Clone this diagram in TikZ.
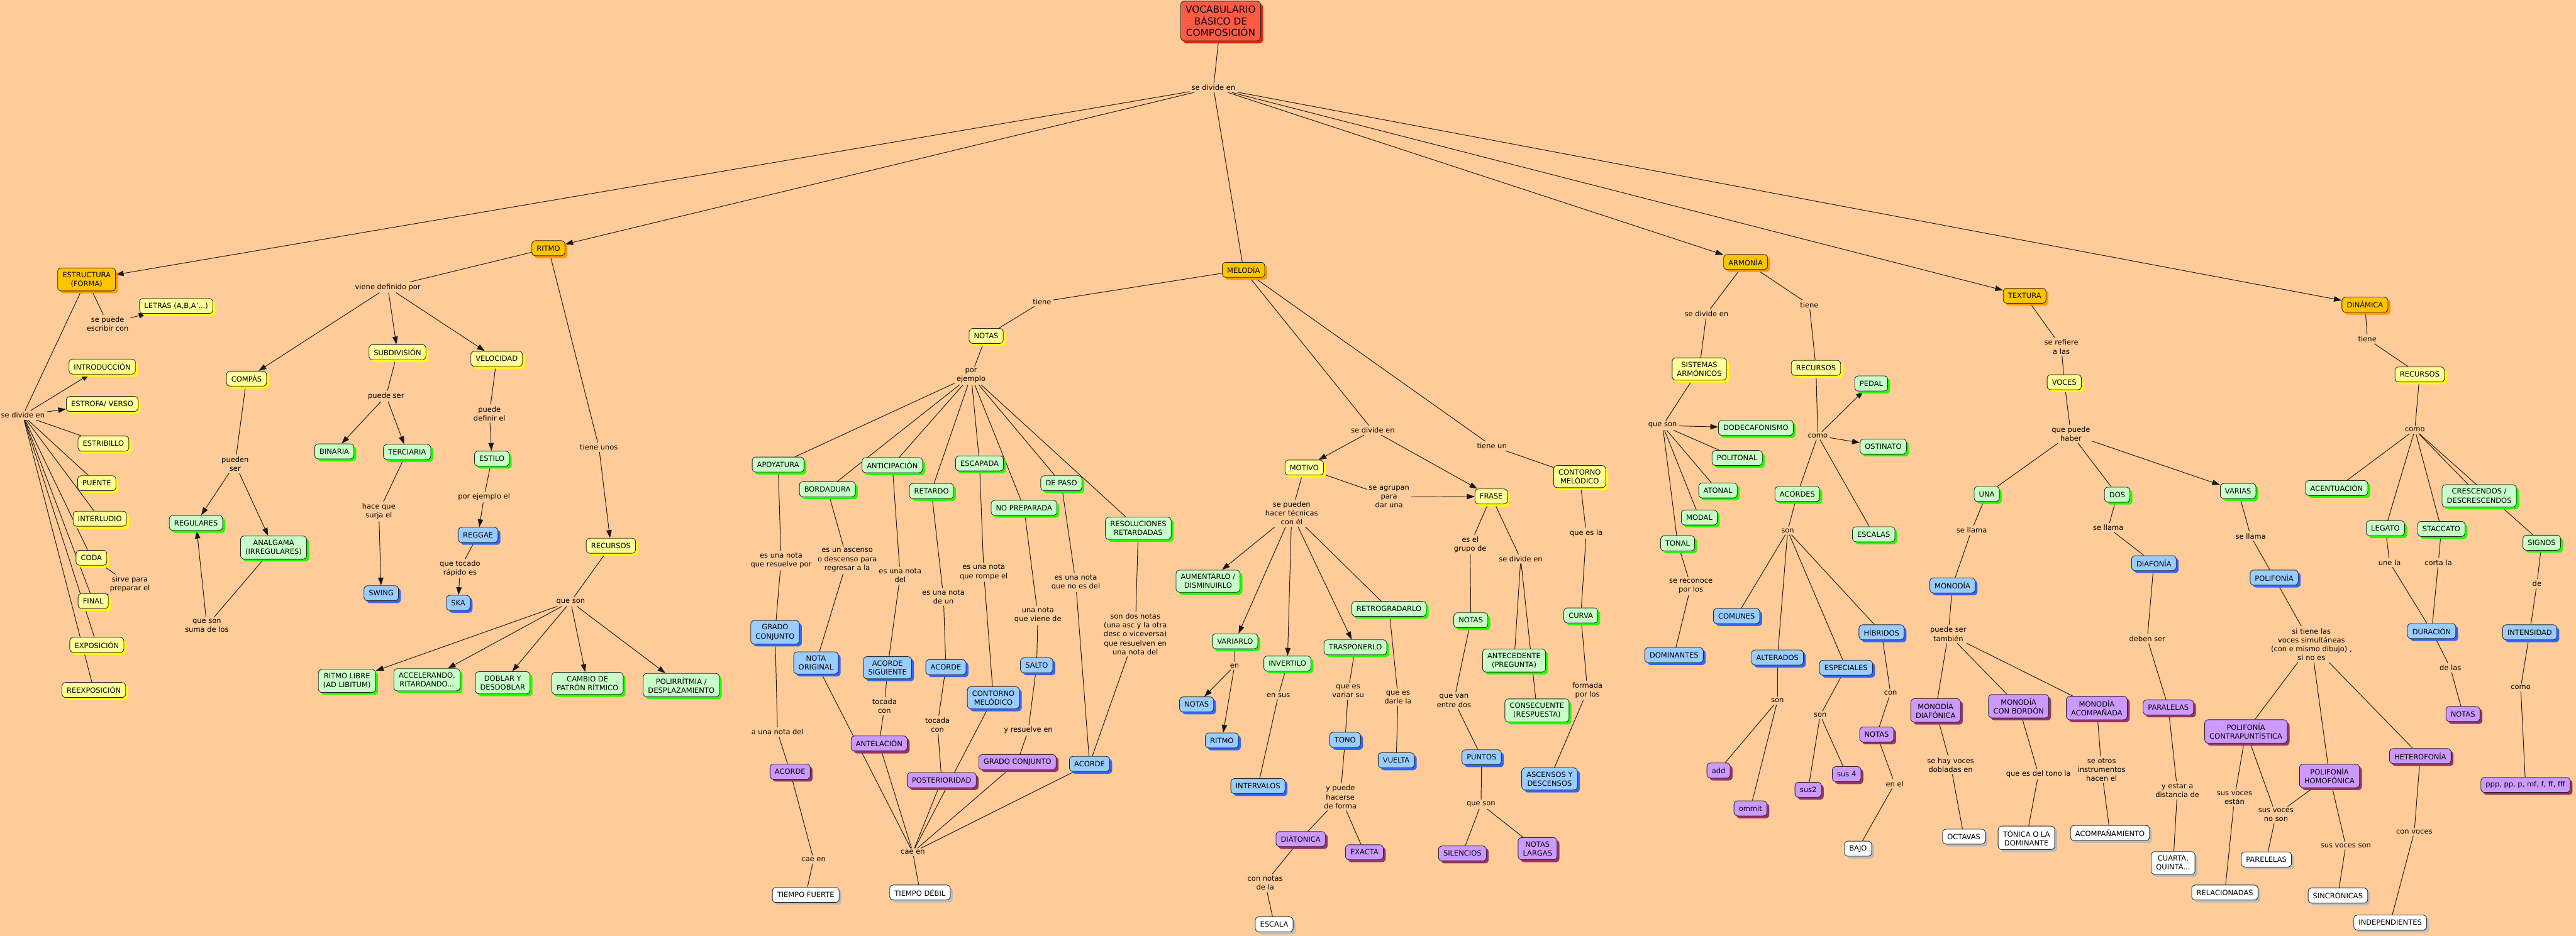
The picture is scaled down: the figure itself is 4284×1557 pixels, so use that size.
\documentclass[tikz,border=0pt]{standalone}
\usepackage{fontspec}
\setmainfont{DejaVu Sans}
\usetikzlibrary{shadows,arrows.meta}
\definecolor{bgc}{HTML}{FFCC99}
\definecolor{rootF}{HTML}{FF5A45}\definecolor{rootS}{HTML}{FF1A00}
\definecolor{orF}{HTML}{FFC400}\definecolor{orS}{HTML}{FF9900}
\definecolor{yeF}{HTML}{FFFF99}\definecolor{yeS}{HTML}{FFFF00}
\definecolor{grF}{HTML}{C8FFC8}\definecolor{grS}{HTML}{22FF00}
\definecolor{blF}{HTML}{99CCFF}\definecolor{blS}{HTML}{3366FF}
\definecolor{puF}{HTML}{CC99FF}\definecolor{puS}{HTML}{993366}
\definecolor{whF}{HTML}{FFFFFF}\definecolor{whS}{HTML}{BBBBBB}
\newcommand\fsz{\fontsize{12}{14.8}\selectfont}
\pgfdeclarelayer{bg}
\pgfsetlayers{bg,main}
\newcommand\lnk[1]{\foreach \pa/\pb in {#1} {\draw[ln] (\pa) -- (\pb);}}
\newcommand\arw[1]{\foreach \pa/\pb in {#1} {\draw[ar] (\pa) -- (\pb);}}
\begin{document}
\begin{tikzpicture}[x=1pt,y=-1pt,
  box/.style={rounded corners=6pt, draw=black!85, line width=0.9pt, inner xsep=8pt, inner ysep=6.5pt, minimum height=25pt, align=center, font=\fsz},
  mk/.style n args={2}{box, fill=#1, drop shadow={shadow xshift=4pt, shadow yshift=-4pt, opacity=1, fill=#2}},
  cOr/.style={mk={orF}{orS}},
  cYe/.style={mk={yeF}{yeS}},
  cGr/.style={mk={grF}{grS}},
  cBl/.style={mk={blF}{blS}},
  cPu/.style={mk={puF}{puS}},
  cWh/.style={mk={whF}{whS}},
  lbl/.style={align=center, inner sep=3pt, font=\fsz},
  ln/.style={line width=1pt, draw=black!90},
  ar/.style={ln, -{Triangle[length=13pt,width=9pt]}},
]
\useasboundingbox (0,0) rectangle (4284,1557);
\begin{pgfonlayer}{bg}
\fill[bgc] (0,0) rectangle (4284,1557);
\end{pgfonlayer}

% ---------- top ----------
\node[mk={rootF}{rootS}, font=\fontsize{16}{19}\selectfont, inner ysep=8pt] (root) at (2030,35) {VOCABULARIO\\BÁSICO DE\\COMPOSICIÓN};
\node[lbl] (ltop) at (2018,146) {se divide en};
\node[cOr] (estructura) at (144,465) {ESTRUCTURA\\(FORMA)};
\node[cOr] (ritmo) at (912,413) {RITMO};
\node[cOr] (melodia) at (2068,449) {MELODÍA};
\node[cOr] (armonia) at (2903,436) {ARMONÍA};
\node[cOr] (textura) at (3367,492) {TEXTURA};
\node[cOr] (dinamica) at (3933,507) {DINÁMICA};

% ---------- estructura ----------
\node[lbl] (lescribir) at (179,539) {se puede\\escribir con};
\node[cYe] (letras) at (293,509) {LETRAS (A,B,A'...)};
\node[lbl] (ldivL) at (38,691) {se divide en};
\node[cYe] (intro) at (170,610) {INTRODUCCIÓN};
\node[cYe] (estrofa) at (170,672) {ESTROFA/ VERSO};
\node[cYe] (estribillo) at (172,738) {ESTRIBILLO};
\node[cYe] (puente) at (161,804) {PUENTE};
\node[cYe] (interludio) at (166,863) {INTERLUDIO};
\node[cYe] (coda) at (152,928) {CODA};
\node[lbl] (lsirve) at (216,972) {sirve para\\preparar el};
\node[cYe] (final) at (155,1000) {FINAL};
\node[cYe] (exposicion) at (161,1073) {EXPOSICIÓN};
\node[cYe] (reexposicion) at (156,1148) {REEXPOSICIÓN};

% ---------- ritmo ----------
\node[lbl] (lviene) at (645,478) {viene definido por};
\node[cYe] (compas) at (410,630) {COMPÁS};
\node[cYe] (subdiv) at (661,586) {SUBDIVISIÓN};
\node[cYe] (velocidad) at (826,597) {VELOCIDAD};
\node[lbl] (lpuedeser) at (642,659) {puede ser};
\node[cGr] (binaria) at (556,751) {BINARIA};
\node[cGr] (terciaria) at (677,752) {TERCIARIA};
\node[lbl] (ldefinir) at (814,688) {puede\\definir el};
\node[cGr] (estilo) at (818,763) {ESTILO};
\node[lbl] (lejemploel) at (805,827) {por ejemplo el};
\node[cBl] (reggae) at (795,890) {REGGAE};
\node[lbl] (ltocado) at (765,946) {que tocado\\rápido es};
\node[cBl] (ska) at (762,1003) {SKA};
\node[lbl] (lsurja) at (630,851) {hace que\\surja el};
\node[cBl] (swing) at (634,987) {SWING};
\node[lbl] (lpueden) at (391,772) {pueden\\ser};
\node[cGr] (regulares) at (326,870) {REGULARES};
\node[cGr] (analgama) at (455,911) {ANALGAMA\\(IRREGULARES)};
\node[lbl] (lsuma) at (344,1041) {que son\\suma de los};
\node[lbl] (ltieneunos) at (996,744) {tiene unos};
\node[cYe] (recursosR) at (1016,908) {RECURSOS};
\node[lbl] (lqueson1) at (949,1001) {que son};
\node[cGr] (libre) at (577,1133) {RITMO LIBRE\\(AD LIBITUM)};
\node[cGr] (acel) at (710,1131) {ACCELERANDO,\\RITARDANDO...};
\node[cGr] (doblar) at (836,1136) {DOBLAR Y\\DESDOBLAR};
\node[cGr] (cambio) at (977,1137) {CAMBIO DE\\PATRÓN RÍTMICO};
\node[cGr] (poli) at (1133,1140) {POLIRRÍTMIA /\\DESPLAZAMIENTO};

% ---------- melodia: notas ----------
\node[lbl] (ltiene1) at (1733,502) {tiene};
\node[cYe] (notasY) at (1640,559) {NOTAS};
\node[lbl] (lporej) at (1615,625) {por\\ejemplo};
\node[cGr] (apoyatura) at (1294,773) {APOYATURA};
\node[cGr] (anticipacion) at (1484,774) {ANTICIPACIÓN};
\node[cGr] (escapada) at (1629,771) {ESCAPADA};
\node[cGr] (bordadura) at (1376,814) {BORDADURA};
\node[cGr] (retardo) at (1549,817) {RETARDO};
\node[cGr] (depaso) at (1765,804) {DE PASO};
\node[cGr] (nopreparada) at (1703,845) {NO PREPARADA};
\node[cGr] (resoluciones) at (1893,879) {RESOLUCIONES\\RETARDADAS};
\node[lbl] (lresuelve) at (1299,933) {es una nota\\que resuelve por};
\node[lbl] (lascenso) at (1409,932) {es un ascenso\\o descenso para\\regresar a la};
\node[lbl] (ldel) at (1497,958) {es una nota\\del};
\node[lbl] (lrompe) at (1636,952) {es una nota\\que rompe el};
\node[lbl] (lnoesdel) at (1789,969) {es una nota\\que no es del};
\node[lbl] (ldeun) at (1569,993) {es una nota\\de un};
\node[lbl] (lviene2) at (1726,1024) {una nota\\que viene de};
\node[lbl] (lsondos) at (1888,1055) {son dos notas\\(una asc y la otra\\desc o viceversa)\\que resuelven en\\una nota del};
\node[cBl] (gradoB) at (1289,1052) {GRADO\\CONJUNTO};
\node[cBl] (notaorig) at (1357,1103) {NOTA\\ORIGINAL};
\node[cBl] (acordesig) at (1476,1111) {ACORDE\\SIGUIENTE};
\node[cBl] (acordeB1) at (1573,1110) {ACORDE};
\node[cBl] (salto) at (1724,1107) {SALTO};
\node[cBl] (contornoB) at (1652,1161) {CONTORNO\\MELÓDICO};
\node[cBl] (acordeB2) at (1812,1271) {ACORDE};
\node[lbl] (ltocada1) at (1471,1175) {tocada\\con};
\node[lbl] (ltocada2) at (1559,1206) {tocada\\con};
\node[lbl] (lunanota) at (1293,1218) {a una nota del};
\node[lbl] (lyresuelve) at (1710,1215) {y resuelve en};
\node[cPu] (antelacion) at (1462,1237) {ANTELACIÓN};
\node[cPu] (gradoP) at (1692,1268) {GRADO CONJUNTO};
\node[cPu] (posterioridad) at (1566,1298) {POSTERIORIDAD};
\node[cPu] (acordeP) at (1314,1284) {ACORDE};
\node[lbl] (lcae1) at (1353,1430) {cae en};
\node[lbl] (lcae2) at (1518,1418) {cae en};
\node[cWh] (fuerte) at (1340,1489) {TIEMPO FUERTE};
\node[cWh] (debil) at (1530,1485) {TIEMPO DÉBIL};

% ---------- melodia: motivo / frase ----------
\node[lbl] (ldivM) at (2283,716) {se divide en};
\node[lbl] (ltieneun) at (2481,742) {tiene un};
\node[cYe] (motivo) at (2169,778) {MOTIVO};
\node[cYe] (frase) at (2480,826) {FRASE};
\node[cYe] (contornoY) at (2627,793) {CONTORNO\\MELÓDICO};
\node[lbl] (lagrupan) at (2310,827) {se agrupan\\para\\dar una};
\node[lbl] (ltecnicas) at (2148,854) {se pueden\\hacer técnicas\\con él};
\node[cGr] (aumentarlo) at (2009,967) {AUMENTARLO /\\DISMINUIRLO};
\node[cGr] (retrogradarlo) at (2310,1013) {RETROGRADARLO};
\node[cGr] (variarlo) at (2054,1067) {VARIARLO};
\node[cGr] (invertilo) at (2141,1104) {INVERTILO};
\node[cGr] (trasponerlo) at (2254,1077) {TRASPONERLO};
\node[lbl] (len) at (2053,1108) {en};
\node[cBl] (notasB) at (1990,1172) {NOTAS};
\node[cBl] (ritmoB) at (2032,1232) {RITMO};
\node[lbl] (lensus) at (2126,1157) {en sus};
\node[cBl] (intervalos) at (2092,1308) {INTERVALOS};
\node[lbl] (lvariarsu) at (2242,1150) {que es\\variar su};
\node[cBl] (tono) at (2237,1231) {TONO};
\node[lbl] (ldarle) at (2325,1160) {que es\\darle la};
\node[cBl] (vuelta) at (2322,1265) {VUELTA};
\node[lbl] (lforma) at (2229,1326) {y puede\\hacerse\\de forma};
\node[cPu] (diatonica) at (2163,1396) {DIÁTONICA};
\node[cPu] (exacta) at (2269,1418) {EXACTA};
\node[lbl] (lconnotas) at (2104,1469) {con notas\\de la};
\node[cWh] (escala) at (2119,1538) {ESCALA};
\node[lbl] (lgrupo) at (2445,906) {es el\\grupo de};
\node[lbl] (ldivF) at (2529,930) {se divide en};
\node[cGr] (notasG) at (2446,1032) {NOTAS};
\node[cGr] (antecedente) at (2518,1099) {ANTECEDENTE\\(PREGUNTA)};
\node[cGr] (consecuente) at (2556,1182) {CONSECUENTE\\(RESPUESTA)};
\node[lbl] (lentredos) at (2418,1166) {que van\\entre dos};
\node[cBl] (puntos) at (2464,1260) {PUNTOS};
\node[lbl] (lqueson2) at (2463,1338) {que son};
\node[cPu] (silencios) at (2432,1420) {SILENCIOS};
\node[cPu] (largas) at (2557,1412) {NOTAS\\LARGAS};
\node[lbl] (lquesla) at (2638,887) {que es la};
\node[cGr] (curva) at (2629,1024) {CURVA};
\node[lbl] (lformada) at (2640,1149) {formada\\por los};
\node[cBl] (ascensos) at (2577,1296) {ASCENSOS Y\\DESCENSOS};

% ---------- armonia ----------
\node[lbl] (ldivA) at (2838,522) {se divide en};
\node[lbl] (ltieneA) at (3009,507) {tiene};
\node[cYe] (sistemas) at (2826,614) {SISTEMAS\\ARMÓNICOS};
\node[cYe] (recursosA) at (3020,612) {RECURSOS};
\node[cGr] (pedal) at (3112,638) {PEDAL};
\node[lbl] (lquesonA) at (2765,708) {que son};
\node[cGr] (dodeca) at (2920,712) {DODECAFONISMO};
\node[lbl] (lcomoA) at (3023,725) {como};
\node[cGr] (ostinato) at (3132,743) {OSTINATO};
\node[cGr] (politonal) at (2889,762) {POLITONAL};
\node[cGr] (atonal) at (2857,816) {ATONAL};
\node[cGr] (acordes) at (2989,822) {ACORDES};
\node[cGr] (modal) at (2826,861) {MODAL};
\node[cGr] (escalas) at (3116,889) {ESCALAS};
\node[cGr] (tonal) at (2790,904) {TONAL};
\node[lbl] (lsonAc) at (2973,883) {son};
\node[lbl] (lreconoce) at (2812,975) {se reconoce\\por los};
\node[cBl] (comunes) at (2888,1025) {COMUNES};
\node[cBl] (dominantes) at (2784,1090) {DOMINANTES};
\node[cBl] (alterados) at (2956,1094) {ALTERADOS};
\node[cBl] (especiales) at (3070,1111) {ESPECIALES};
\node[cBl] (hibridos) at (3129,1052) {HÍBRIDOS};
\node[lbl] (lsonAl) at (2956,1166) {son};
\node[lbl] (lsonEs) at (3027,1190) {son};
\node[lbl] (lcon) at (3144,1153) {con};
\node[cPu] (notasP) at (3121,1222) {NOTAS};
\node[lbl] (lenel) at (3151,1304) {en el};
\node[cWh] (bajo) at (3090,1412) {BAJO};
\node[cPu] (add) at (2858,1282) {add};
\node[cPu] (ommit) at (2911,1345) {ommit};
\node[cPu] (sus2) at (3007,1314) {sus2};
\node[cPu] (sus4) at (3071,1288) {sus 4};

% ---------- textura ----------
\node[lbl] (lrefiere) at (3428,577) {se refiere\\a las};
\node[cYe] (voces) at (3433,636) {VOCES};
\node[lbl] (lhaber) at (3444,722) {que puede\\haber};
\node[cGr] (una) at (3304,822) {UNA};
\node[lbl] (lllamaU) at (3279,882) {se llama};
\node[cBl] (monodia) at (3247,974) {MONODÍA};
\node[lbl] (ltambien) at (3240,1055) {puede ser\\también};
\node[cPu] (diafonica) at (3219,1182) {MONODÍA\\DIAFÓNICA};
\node[cPu] (bordon) at (3357,1175) {MONODÍA\\CON BORDÓN};
\node[cPu] (acompanada) at (3487,1178) {MONODÍA\\ACOMPAÑADA};
\node[lbl] (ldobladas) at (3244,1273) {se hay voces\\dobladas en};
\node[cWh] (octavas) at (3266,1392) {OCTAVAS};
\node[lbl] (ltono) at (3390,1288) {que es del tono la};
\node[cWh] (tonica) at (3370,1394) {TÓNICA O LA\\DOMINANTE};
\node[lbl] (lotros) at (3495,1281) {se otros\\instrumentos\\hacen el};
\node[cWh] (acompanamiento) at (3509,1386) {ACOMPAÑAMIENTO};
\node[cGr] (dos) at (3521,823) {DOS};
\node[cGr] (varias) at (3722,817) {VARIAS};
\node[lbl] (lllamaD) at (3506,878) {se llama};
\node[lbl] (lllamaV) at (3743,892) {se llama};
\node[cBl] (diafonia) at (3582,937) {DIAFONÍA};
\node[cBl] (polifonia) at (3782,961) {POLIFONÍA};
\node[lbl] (ldeben) at (3571,1063) {deben ser};
\node[cPu] (paralelas) at (3606,1177) {PARALELAS};
\node[lbl] (ldistancia) at (3621,1315) {y estar a\\distancia de};
\node[cWh] (cuarta) at (3614,1436) {CUARTA,\\QUINTA...};
\node[lbl] (lsi) at (3844,1072) {si tiene las\\voces simultáneas\\(con e mismo dibujo) ,\\si no es};
\node[cPu] (contrap) at (3735,1217) {POLIFONÍA\\CONTRAPUNTÍSTICA};
\node[cPu] (homof) at (3874,1291) {POLIFONÍA\\HOMOFÓNICA};
\node[cPu] (hetero) at (4025,1258) {HETEROFONÍA};
\node[lbl] (lestan) at (3716,1328) {sus voces\\están};
\node[cWh] (relacionadas) at (3700,1485) {RELACIONADAS};
\node[lbl] (lnoson) at (3785,1356) {sus voces\\no son};
\node[cWh] (parelelas) at (3769,1430) {PARELELAS};
\node[lbl] (lvocesson) at (3901,1407) {sus voces son};
\node[cWh] (sincronicas) at (3888,1490) {SINCRÓNICAS};
\node[lbl] (lconvoces) at (4015,1384) {con voces};
\node[cWh] (independientes) at (3975,1535) {INDEPENDIENTES};

% ---------- dinamica ----------
\node[lbl] (ltieneD) at (3937,564) {tiene};
\node[cYe] (recursosD) at (4024,623) {RECURSOS};
\node[lbl] (lcomoD) at (4016,715) {como};
\node[cGr] (acentuacion) at (3886,812) {ACENTUACIÓN};
\node[cGr] (crescendos) at (4123,825) {CRESCENDOS /\\DESCRESCENDOS};
\node[cGr] (legato) at (3967,879) {LEGATO};
\node[cGr] (staccato) at (4060,880) {STACCATO};
\node[cGr] (signos) at (4227,903) {SIGNOS};
\node[lbl] (lune) at (3974,936) {une la};
\node[lbl] (lcorta) at (4055,936) {corta la};
\node[lbl] (lde) at (4219,971) {de};
\node[cBl] (duracion) at (4044,1050) {DURACIÓN};
\node[cBl] (intensidad) at (4207,1052) {INTENSIDAD};
\node[lbl] (ldelas) at (4075,1111) {de las};
\node[cPu] (notasD) at (4096,1188) {NOTAS};
\node[lbl] (lcomoI) at (4192,1144) {como};
\node[cPu] (ppp) at (4200,1306) {ppp, pp, p, mf, f, ff, fff};

% ================= connectors =================
\begin{pgfonlayer}{bg}
% top
\lnk{root/ltop, ltop/melodia}
\arw{ltop/estructura, ltop/ritmo, ltop/armonia, ltop/textura, ltop/dinamica}
% estructura
\lnk{estructura/lescribir, estructura/ldivL, ldivL/estribillo, ldivL/puente, ldivL/interludio, ldivL/coda, ldivL/final, ldivL/exposicion, ldivL/reexposicion, coda/lsirve}
\arw{lescribir/letras, ldivL/intro, ldivL/estrofa, lsirve/final}
% ritmo
\lnk{ritmo/lviene, subdiv/lpuedeser, velocidad/ldefinir, estilo/lejemploel, reggae/ltocado, terciaria/lsurja, compas/lpueden, analgama/lsuma, ritmo/ltieneunos, recursosR/lqueson1}
\arw{lviene/compas, lviene/subdiv, lviene/velocidad, lpuedeser/binaria, lpuedeser/terciaria, ldefinir/estilo, lejemploel/reggae, ltocado/ska, lsurja/swing, lpueden/regulares, lpueden/analgama, lsuma/regulares, ltieneunos/recursosR}
\arw{lqueson1/libre, lqueson1/acel, lqueson1/doblar, lqueson1/cambio, lqueson1/poli}
% melodia notas
\lnk{melodia/ltiene1, ltiene1/notasY, notasY/lporej}
\lnk{lporej/apoyatura, lporej/anticipacion, lporej/bordadura, lporej/retardo, lporej/escapada, lporej/nopreparada, lporej/depaso, lporej/resoluciones}
\lnk{apoyatura/lresuelve, lresuelve/gradoB, gradoB/lunanota, lunanota/acordeP, acordeP/lcae1, lcae1/fuerte}
\lnk{bordadura/lascenso, lascenso/notaorig, notaorig/lcae2}
\lnk{anticipacion/ldel, ldel/acordesig, acordesig/ltocada1, ltocada1/antelacion, antelacion/lcae2}
\lnk{retardo/ldeun, ldeun/acordeB1, acordeB1/ltocada2, ltocada2/posterioridad, posterioridad/lcae2}
\lnk{escapada/lrompe, lrompe/contornoB, contornoB/lcae2}
\lnk{nopreparada/lviene2, lviene2/salto, salto/lyresuelve, lyresuelve/gradoP, gradoP/lcae2}
\lnk{depaso/lnoesdel, lnoesdel/acordeB2, acordeB2/lcae2, resoluciones/lsondos, lsondos/acordeB2, lcae2/debil}
% melodia motivo
\lnk{melodia/ldivM, melodia/ltieneun, ltieneun/contornoY, motivo/lagrupan, motivo/ltecnicas, ltecnicas/retrogradarlo}
\arw{ldivM/motivo, ldivM/frase, lagrupan/frase, ltecnicas/aumentarlo, ltecnicas/variarlo, ltecnicas/invertilo, ltecnicas/trasponerlo}
\lnk{variarlo/len}
\arw{len/notasB, len/ritmoB}
\lnk{invertilo/lensus, lensus/intervalos, trasponerlo/lvariarsu, lvariarsu/tono, tono/lforma, lforma/diatonica, lforma/exacta, diatonica/lconnotas, lconnotas/escala, retrogradarlo/ldarle, ldarle/vuelta}
\lnk{frase/lgrupo, lgrupo/notasG, notasG/lentredos, lentredos/puntos, puntos/lqueson2, lqueson2/silencios, lqueson2/largas}
\lnk{frase/ldivF, ldivF/antecedente, ldivF/consecuente}
\lnk{contornoY/lquesla, lquesla/curva, curva/lformada, lformada/ascensos}
% armonia
\lnk{armonia/ldivA, ldivA/sistemas, armonia/ltieneA, ltieneA/recursosA, sistemas/lquesonA}
\arw{lquesonA/dodeca}
\lnk{lquesonA/politonal, lquesonA/atonal, lquesonA/modal, lquesonA/tonal, tonal/lreconoce, lreconoce/dominantes}
\lnk{recursosA/lcomoA, lcomoA/acordes, lcomoA/escalas}
\arw{lcomoA/pedal, lcomoA/ostinato}
\lnk{acordes/lsonAc, lsonAc/comunes, lsonAc/alterados, lsonAc/especiales, lsonAc/hibridos}
\lnk{alterados/lsonAl, lsonAl/add, lsonAl/ommit, especiales/lsonEs, lsonEs/sus2, lsonEs/sus4}
\lnk{hibridos/lcon, lcon/notasP, notasP/lenel, lenel/bajo}
% textura
\lnk{textura/lrefiere, lrefiere/voces, voces/lhaber, lhaber/una, lhaber/dos}
\arw{lhaber/varias}
\lnk{una/lllamaU, lllamaU/monodia, monodia/ltambien, ltambien/diafonica, ltambien/bordon, ltambien/acompanada}
\lnk{diafonica/ldobladas, ldobladas/octavas, bordon/ltono, ltono/tonica, acompanada/lotros, lotros/acompanamiento}
\lnk{dos/lllamaD, lllamaD/diafonia, diafonia/ldeben, ldeben/paralelas, paralelas/ldistancia, ldistancia/cuarta}
\lnk{varias/lllamaV, lllamaV/polifonia, polifonia/lsi, lsi/contrap, lsi/homof, lsi/hetero}
\lnk{contrap/lestan, lestan/relacionadas, contrap/lnoson, homof/lnoson, lnoson/parelelas, homof/lvocesson, lvocesson/sincronicas, hetero/lconvoces, lconvoces/independientes}
% dinamica
\lnk{dinamica/ltieneD, ltieneD/recursosD, recursosD/lcomoD, lcomoD/acentuacion, lcomoD/legato, lcomoD/staccato, lcomoD/crescendos, lcomoD/signos}
\lnk{legato/lune, lune/duracion, staccato/lcorta, lcorta/duracion, duracion/ldelas, ldelas/notasD}
\lnk{signos/lde, lde/intensidad, intensidad/lcomoI, lcomoI/ppp}
\end{pgfonlayer}
\end{tikzpicture}
\end{document}
